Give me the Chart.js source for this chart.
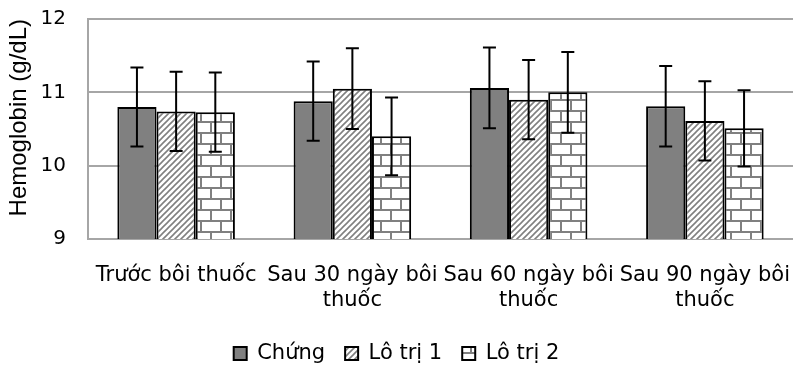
<!DOCTYPE html>
<html>
<head>
<meta charset="utf-8">
<script src="https://cdn.jsdelivr.net/npm/chart.js@4.4.1/dist/chart.umd.min.js"></script>
<style>
  body { margin: 0; background: #fff; }
  #wrap { width: 793px; height: 368px; }
</style>
</head>
<body>
<div id="wrap"><canvas id="hbChart"></canvas></div>
<script>
const categories = [['Trước bôi thuốc'], ['Sau 30 ngày bôi', 'thuốc'], ['Sau 60 ngày bôi', 'thuốc'], ['Sau 90 ngày bôi', 'thuốc']]
const chung = [10.80, 10.88, 11.06, 10.81]
const chungSd = [0.54, 0.54, 0.55, 0.55]
const loTri1 = [10.74, 11.05, 10.90, 10.61]
const loTri1Sd = [0.54, 0.55, 0.54, 0.54]
const loTri2 = [10.73, 10.40, 11.00, 10.51]
const loTri2Sd = [0.54, 0.53, 0.55, 0.52]

// fill patterns
function hatch() {
  const c = document.createElement('canvas')
  c.width = 6; c.height = 6
  const g = c.getContext('2d')
  g.fillStyle = '#fff'; g.fillRect(0, 0, 6, 6)
  g.strokeStyle = '#808080'; g.lineWidth = 1.6
  g.beginPath()
  g.moveTo(0, 6); g.lineTo(6, 0)
  g.moveTo(-3, 3); g.lineTo(3, -3)
  g.moveTo(3, 9); g.lineTo(9, 3)
  g.stroke()
  return g.createPattern(c, 'repeat')
}
function brick() {
  const c = document.createElement('canvas')
  c.width = 20; c.height = 22
  const g = c.getContext('2d')
  g.fillStyle = '#fff'; g.fillRect(0, 0, 20, 22)
  g.fillStyle = '#808080'
  g.fillRect(0, 0, 20, 2)
  g.fillRect(0, 11, 20, 2)
  g.fillRect(0, 0, 2, 11)
  g.fillRect(10, 11, 2, 11)
  return g.createPattern(c, 'repeat')
}

const errorBars = {
  id: 'errorBars',
  afterDatasetsDraw(chart) {
    const ctx = chart.ctx
    const y = chart.scales.y
    ctx.save()
    ctx.strokeStyle = '#000'
    ctx.lineWidth = 2
    chart.data.datasets.forEach((ds, i) => {
      chart.getDatasetMeta(i).data.forEach((bar, j) => {
        const top = y.getPixelForValue(ds.data[j] + ds.errors[j])
        const bot = y.getPixelForValue(ds.data[j] - ds.errors[j])
        ctx.beginPath()
        ctx.moveTo(bar.x, top); ctx.lineTo(bar.x, bot)
        ctx.moveTo(bar.x - 6.5, top); ctx.lineTo(bar.x + 6.5, top)
        ctx.moveTo(bar.x - 6.5, bot); ctx.lineTo(bar.x + 6.5, bot)
        ctx.stroke()
      })
    })
    ctx.restore()
  }
}

const font = { family: 'DejaVu Sans', size: 20 }

new Chart(document.getElementById('hbChart'), {
  type: 'bar',
  data: {
    labels: categories,
    datasets: [
      { label: 'Chứng', data: chung, errors: chungSd, backgroundColor: '#808080' },
      { label: 'Lô trị 1', data: loTri1, errors: loTri1Sd, backgroundColor: hatch() },
      { label: 'Lô trị 2', data: loTri2, errors: loTri2Sd, backgroundColor: brick() }
    ].map(d => Object.assign(d, {
      borderColor: '#000', borderWidth: 2, borderSkipped: false,
      categoryPercentage: 0.667, barPercentage: 1
    }))
  },
  options: {
    responsive: true,
    maintainAspectRatio: false,
    animation: false,
    layout: { padding: { top: 19, right: 0, left: 0, bottom: 0 } },
    scales: {
      x: {
        grid: { display: false },
        border: { color: '#a6a6a6', width: 2 },
        ticks: { color: '#000', font: { family: 'DejaVu Sans', size: 21, lineHeight: 1.2 }, padding: 16, maxRotation: 0, autoSkip: false },
        afterFit: s => { s.height = 84; s.paddingLeft = 0; s.paddingRight = 0 }
      },
      y: {
        min: 9,
        max: 12,
        ticks: { stepSize: 1, color: '#000', font, padding: 22 },
        grid: { color: '#a6a6a6', lineWidth: 2, drawTicks: false },
        border: { color: '#a6a6a6', width: 2 },
        title: {
          display: true, text: 'Hemoglobin (g/dL)', align: 'end', color: '#000',
          font: { family: 'Liberation Sans', size: 24 }, padding: { top: 5, bottom: 0 }
        },
        afterFit: s => { s.width = 88; s.paddingTop = 0; s.paddingBottom = 0 }
      }
    },
    plugins: {
      legend: {
        position: 'bottom',
        maxHeight: 45,
        labels: { color: '#000', font: { family: 'DejaVu Sans', size: 21 }, boxWidth: 13, boxHeight: 13, padding: 20 }
      },
      tooltip: { enabled: false }
    }
  },
  plugins: [errorBars]
})
</script>
</body>
</html>
